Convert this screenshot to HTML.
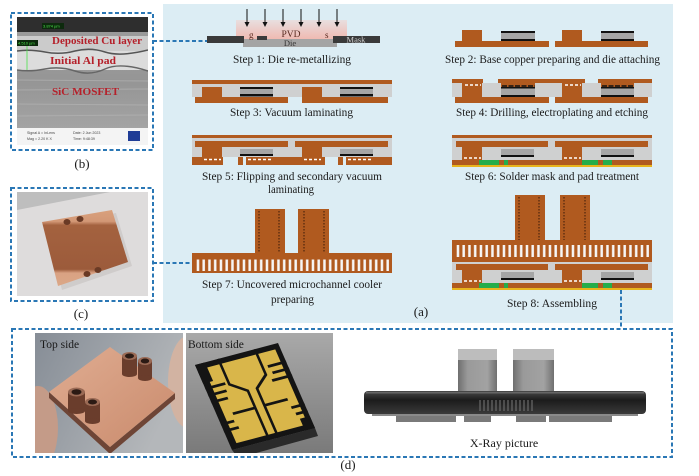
<!DOCTYPE html>
<html><head><meta charset="utf-8"><style>
html,body{margin:0;padding:0;background:#fff;width:699px;height:476px;overflow:hidden}
svg{display:block}
</style></head><body>
<svg width="699" height="476" viewBox="0 0 699 476" xmlns="http://www.w3.org/2000/svg" font-family="'Liberation Serif', serif">
<defs>
<pattern id="sl7" patternUnits="userSpaceOnUse" x="195" y="0" width="5.75" height="10"><rect x="1.7" y="0" width="2.5" height="10" fill="#f6f6f6"/></pattern>
<pattern id="sl8" patternUnits="userSpaceOnUse" x="455" y="0" width="5.75" height="10"><rect x="1.7" y="0" width="2.5" height="10" fill="#f6f6f6"/></pattern>
<linearGradient id="pink" x1="0" y1="0" x2="0" y2="1"><stop offset="0" stop-color="#e8dfdf"/><stop offset="1" stop-color="#f1b2a8"/></linearGradient>
<linearGradient id="sic" x1="0" y1="0" x2="0" y2="1"><stop offset="0" stop-color="#a4a4a4"/><stop offset="0.5" stop-color="#959595"/><stop offset="1" stop-color="#a9a9a9"/></linearGradient>
<linearGradient id="cu" x1="0" y1="0" x2="1" y2="1"><stop offset="0" stop-color="#e0ad92"/><stop offset="1" stop-color="#c98a6c"/></linearGradient>
<linearGradient id="topbg" x1="0" y1="0" x2="1" y2="0.4"><stop offset="0" stop-color="#868d96"/><stop offset="1" stop-color="#b4b7ba"/></linearGradient>
<linearGradient id="botbg" x1="0" y1="0" x2="0" y2="1"><stop offset="0" stop-color="#a9a9a9"/><stop offset="1" stop-color="#7a7a7a"/></linearGradient>
<linearGradient id="cyl" x1="0" y1="0" x2="1" y2="0"><stop offset="0" stop-color="#6f6f6f"/><stop offset="0.25" stop-color="#9a9a9a"/><stop offset="0.75" stop-color="#a2a2a2"/><stop offset="1" stop-color="#707070"/></linearGradient>
<linearGradient id="disk" x1="0" y1="0" x2="0" y2="1"><stop offset="0" stop-color="#4a4a4a"/><stop offset="0.4" stop-color="#1c1c1c"/><stop offset="1" stop-color="#3a3a3a"/></linearGradient>
<linearGradient id="cplate" x1="0" y1="0" x2="0" y2="1"><stop offset="0" stop-color="#d9a17d"/><stop offset="0.15" stop-color="#d39876"/><stop offset="0.2" stop-color="#a4623f"/><stop offset="0.78" stop-color="#9c5b3b"/><stop offset="0.83" stop-color="#d9a283"/><stop offset="1" stop-color="#dba787"/></linearGradient>
<clipPath id="cpTop"><rect x="35" y="333" width="148" height="120"/></clipPath>
<clipPath id="cpBot"><rect x="186" y="333" width="147" height="120"/></clipPath>
<clipPath id="cpB"><rect x="17" y="17" width="131" height="128"/></clipPath>
<clipPath id="cpC"><rect x="17" y="192" width="131" height="104"/></clipPath>
</defs>

<rect width="699" height="476" fill="#fff"/>
<!-- panel (a) -->
<rect x="163" y="4" width="510" height="319" fill="#dcedf4"/>

<!-- ===== Step 1 ===== -->
<rect x="236" y="20" width="111" height="23" fill="url(#pink)"/>
<g stroke="#111" stroke-width="1">
<line x1="247" y1="9" x2="247" y2="23"/><line x1="265" y1="9" x2="265" y2="23"/><line x1="283" y1="9" x2="283" y2="23"/>
<line x1="301" y1="9" x2="301" y2="23"/><line x1="319" y1="9" x2="319" y2="23"/><line x1="337" y1="9" x2="337" y2="23"/>
</g>
<g fill="#111">
<polygon points="244.5,22 249.5,22 247,27"/><polygon points="262.5,22 267.5,22 265,27"/><polygon points="280.5,22 285.5,22 283,27"/>
<polygon points="298.5,22 303.5,22 301,27"/><polygon points="316.5,22 321.5,22 319,27"/><polygon points="334.5,22 339.5,22 337,27"/>
</g>
<rect x="243" y="39" width="94" height="8" fill="#a4a4a4"/>
<rect x="207" y="36" width="37" height="7" fill="#3a3a3a"/>
<rect x="257" y="36" width="10" height="4" fill="#3a3a3a"/>
<rect x="333" y="36" width="47" height="7" fill="#3a3a3a"/>
<text x="249" y="38" font-size="9" fill="#5a2a20">g</text>
<text x="291" y="37" font-size="9.5" fill="#5a2a20" text-anchor="middle">PVD</text>
<text x="325" y="38" font-size="9" fill="#5a2a20">s</text>
<text x="290" y="46" font-size="8.5" fill="#333" text-anchor="middle">Die</text>
<text x="356" y="42.5" font-size="8.5" fill="#d0d0d0" text-anchor="middle">Mask</text>
<text x="292" y="63" font-size="12" fill="#1a1a1a" text-anchor="middle" textLength="118" lengthAdjust="spacingAndGlyphs">Step 1: Die re-metallizing</text>

<!-- ===== Step 2 ===== -->
<g fill="#b05a1f">
<rect x="455" y="41" width="94" height="6"/><rect x="462" y="30" width="20" height="11"/>
<rect x="555" y="41" width="93" height="6"/><rect x="562" y="30" width="20" height="11"/>
</g>
<rect x="501" y="31" width="34" height="2" fill="#111"/><rect x="501" y="33" width="34" height="6" fill="#a6a6a6"/><rect x="501" y="39" width="34" height="2" fill="#111"/>
<rect x="601" y="31" width="33" height="2" fill="#111"/><rect x="601" y="33" width="33" height="6" fill="#a6a6a6"/><rect x="601" y="39" width="33" height="2" fill="#111"/>
<text x="552.5" y="63" font-size="12" fill="#1a1a1a" text-anchor="middle" textLength="215" lengthAdjust="spacingAndGlyphs">Step 2: Base copper preparing and die attaching</text>

<!-- ===== Step 3 ===== -->
<rect x="192" y="84" width="200" height="13" fill="#cfd0d0"/>
<g fill="#b05a1f">
<rect x="192" y="80" width="200" height="4"/>
<rect x="202" y="87" width="20" height="10"/><rect x="302" y="87" width="20" height="10"/>
<rect x="195" y="97" width="93" height="6"/><rect x="302" y="97" width="86" height="6"/>
</g>
<rect x="240" y="87" width="33" height="2" fill="#111"/><rect x="240" y="89" width="33" height="5" fill="#a6a6a6"/><rect x="240" y="94" width="33" height="2.5" fill="#111"/>
<rect x="340" y="87" width="33" height="2" fill="#111"/><rect x="340" y="89" width="33" height="5" fill="#a6a6a6"/><rect x="340" y="94" width="33" height="2.5" fill="#111"/>
<text x="291.5" y="116" font-size="12" fill="#1a1a1a" text-anchor="middle" textLength="123" lengthAdjust="spacingAndGlyphs">Step 3: Vacuum laminating</text>

<!-- ===== Step 4 ===== -->
<rect x="452" y="83" width="200" height="14" fill="#cfd0d0"/>
<g fill="#b05a1f">
<rect x="452" y="79" width="31" height="4"/><rect x="498" y="79" width="87" height="4"/><rect x="598" y="79" width="54" height="4"/>
<rect x="462" y="83" width="20" height="14"/><rect x="562" y="83" width="20" height="14"/>
<rect x="501" y="83" width="34" height="4"/><rect x="601" y="83" width="33" height="4"/>
<rect x="455" y="97" width="94" height="6"/><rect x="555" y="97" width="93" height="6"/>
</g>
<g stroke="#fff" stroke-width="1.5" stroke-dasharray="3 2">
<line x1="465" y1="85" x2="481" y2="85"/><line x1="565" y1="85" x2="581" y2="85"/>
</g>
<g stroke="#111" stroke-width="1.5" stroke-dasharray="5 1.5">
<line x1="502" y1="86" x2="535" y2="86"/><line x1="602" y1="86" x2="634" y2="86"/>
</g>
<rect x="501" y="87" width="34" height="1.5" fill="#111"/><rect x="501" y="88.5" width="34" height="6.5" fill="#a6a6a6"/><rect x="501" y="95" width="34" height="2" fill="#111"/>
<rect x="601" y="87" width="33" height="1.5" fill="#111"/><rect x="601" y="88.5" width="33" height="6.5" fill="#a6a6a6"/><rect x="601" y="95" width="33" height="2" fill="#111"/>
<text x="552" y="116" font-size="12" fill="#1a1a1a" text-anchor="middle" textLength="192" lengthAdjust="spacingAndGlyphs">Step 4: Drilling, electroplating and etching</text>

<!-- ===== Step 5 ===== -->
<rect x="192" y="138" width="200" height="19" fill="#cfd0d0"/>
<g fill="#b05a1f">
<rect x="192" y="135" width="200" height="3"/>
<rect x="195" y="141" width="93" height="6"/><rect x="295" y="141" width="93" height="6"/>
<rect x="202" y="147" width="20" height="10"/><rect x="302" y="147" width="20" height="10"/>
<rect x="192" y="157" width="31" height="8"/><rect x="238" y="157" width="5" height="8"/><rect x="246" y="157" width="79" height="8"/>
<rect x="338" y="157" width="5" height="8"/><rect x="346" y="157" width="46" height="8"/>
</g>
<rect x="240" y="149" width="33" height="5" fill="#a6a6a6"/><rect x="240" y="154" width="33" height="2" fill="#111"/>
<rect x="340" y="149" width="33" height="5" fill="#a6a6a6"/><rect x="340" y="154" width="33" height="2" fill="#111"/>
<g stroke="#fff" stroke-width="1.5" stroke-dasharray="3 2">
<line x1="204" y1="159.5" x2="221" y2="159.5"/><line x1="304" y1="159.5" x2="321" y2="159.5"/>
<line x1="248" y1="159.5" x2="272" y2="159.5"/><line x1="348" y1="159.5" x2="372" y2="159.5"/>
</g>
<text x="292" y="180" font-size="12" fill="#1a1a1a" text-anchor="middle" textLength="180" lengthAdjust="spacingAndGlyphs">Step 5: Flipping and secondary vacuum</text>
<text x="291" y="193" font-size="12" fill="#1a1a1a" text-anchor="middle" textLength="46" lengthAdjust="spacingAndGlyphs">laminating</text>

<!-- ===== Step 6 ===== -->
<rect x="452" y="138" width="200" height="23" fill="#cfd0d0"/>
<g fill="#b05a1f">
<rect x="452" y="135" width="200" height="3"/>
<rect x="456" y="141" width="92" height="6"/><rect x="555" y="141" width="93" height="6"/>
<rect x="462" y="147" width="20" height="13"/><rect x="562" y="147" width="20" height="13"/>
<rect x="452" y="160" width="200" height="5"/>
</g>
<rect x="501" y="149" width="33" height="6" fill="#a6a6a6"/><rect x="501" y="155" width="33" height="2" fill="#111"/>
<rect x="601" y="149" width="33" height="6" fill="#a6a6a6"/><rect x="601" y="155" width="33" height="2" fill="#111"/>
<g stroke="#fff" stroke-width="1.5" stroke-dasharray="3 2">
<line x1="464" y1="158" x2="481" y2="158"/><line x1="564" y1="158" x2="581" y2="158"/>
</g>
<g fill="#25ad4b">
<rect x="479" y="160" width="20" height="6"/><rect x="504" y="160" width="4" height="6"/>
<rect x="582" y="160" width="16" height="6"/><rect x="603" y="160" width="9" height="6"/>
</g>
<rect x="452" y="165" width="200" height="2" fill="#e8b41c"/>
<text x="552" y="180" font-size="12" fill="#1a1a1a" text-anchor="middle" textLength="174" lengthAdjust="spacingAndGlyphs">Step 6: Solder mask and pad treatment</text>

<!-- ===== Step 7 ===== -->
<g fill="#b05a1f">
<rect x="255" y="209" width="30" height="45"/><rect x="298" y="209" width="31" height="45"/>
<rect x="192" y="253" width="200" height="20"/>
</g>
<rect x="196" y="259.5" width="193" height="11.5" fill="url(#sl7)"/>
<g stroke="#3a1a08" stroke-width="1" stroke-dasharray="1.5 1.5">
<line x1="259" y1="211" x2="259" y2="253"/><line x1="279" y1="211" x2="279" y2="253"/>
<line x1="304" y1="211" x2="304" y2="253"/><line x1="324" y1="211" x2="324" y2="253"/>
</g>
<text x="292" y="288" font-size="12" fill="#1a1a1a" text-anchor="middle" textLength="180" lengthAdjust="spacingAndGlyphs">Step 7: Uncovered microchannel cooler</text>
<text x="292.5" y="303" font-size="12" fill="#1a1a1a" text-anchor="middle" textLength="43" lengthAdjust="spacingAndGlyphs">preparing</text>
<text x="421" y="316" font-size="13" fill="#1a1a1a" text-anchor="middle">(a)</text>

<!-- ===== Step 8 ===== -->
<g fill="#b05a1f">
<rect x="515" y="195" width="30" height="46"/><rect x="560" y="195" width="30" height="46"/>
<rect x="452" y="240" width="200" height="22"/>
</g>
<rect x="456" y="245" width="193" height="12" fill="url(#sl8)"/>
<g stroke="#3a1a08" stroke-width="1" stroke-dasharray="1.5 1.5">
<line x1="519" y1="197" x2="519" y2="240"/><line x1="539" y1="197" x2="539" y2="240"/>
<line x1="564" y1="197" x2="564" y2="240"/><line x1="585" y1="197" x2="585" y2="240"/>
</g>
<rect x="452" y="262" width="200" height="22" fill="#cfd0d0"/>
<g fill="#b05a1f">
<rect x="456" y="264" width="92" height="6"/><rect x="555" y="264" width="93" height="6"/>
<rect x="462" y="270" width="20" height="13"/><rect x="562" y="270" width="20" height="13"/>
<rect x="452" y="283" width="200" height="5"/>
</g>
<rect x="501" y="272" width="33" height="6" fill="#a6a6a6"/><rect x="501" y="278" width="33" height="2" fill="#111"/>
<rect x="601" y="272" width="33" height="6" fill="#a6a6a6"/><rect x="601" y="278" width="33" height="2" fill="#111"/>
<g stroke="#fff" stroke-width="1.5" stroke-dasharray="3 2">
<line x1="464" y1="281" x2="481" y2="281"/><line x1="564" y1="281" x2="581" y2="281"/>
</g>
<g fill="#25ad4b">
<rect x="479" y="283" width="20" height="6"/><rect x="504" y="283" width="4" height="6"/>
<rect x="582" y="283" width="16" height="6"/><rect x="603" y="283" width="9" height="6"/>
</g>
<rect x="452" y="288" width="200" height="2" fill="#e8b41c"/>
<text x="552" y="307" font-size="12" fill="#1a1a1a" text-anchor="middle" textLength="90" lengthAdjust="spacingAndGlyphs">Step 8: Assembling</text>

<!-- ===== (b) SEM ===== -->
<g clip-path="url(#cpB)">
<rect x="17" y="17" width="131" height="128" fill="url(#sic)"/>
<rect x="17" y="17" width="131" height="15" fill="#2e2e2e"/>
<rect x="17" y="32" width="131" height="19" fill="#cbcbcb"/>
<rect x="17" y="32" width="131" height="4" fill="#9a9a9a"/>
<rect x="17" y="51" width="131" height="19" fill="#dcdcdc"/>
<path d="M17 51 Q30 49 45 52 T75 51 T105 52 T148 50" stroke="#555" stroke-width="1.5" fill="none"/>
<path d="M17 70 Q30 72 45 69 T75 71 T105 69 T148 71" stroke="#666" stroke-width="1.5" fill="none"/>
<g stroke="#b3b3b3" stroke-width="1" opacity="0.7">
<line x1="17" y1="80" x2="148" y2="81"/><line x1="17" y1="90" x2="148" y2="89"/><line x1="17" y1="104" x2="148" y2="105"/><line x1="17" y1="116" x2="148" y2="115"/>
</g>
<rect x="17" y="128" width="131" height="17" fill="#f4f4f4"/>
<text x="27" y="134" font-size="3.6" font-family="'Liberation Sans',sans-serif" fill="#444">Signal A = InLens</text>
<text x="27" y="140" font-size="3.6" font-family="'Liberation Sans',sans-serif" fill="#444">Mag =  2.20 K X</text>
<text x="73" y="134" font-size="3.6" font-family="'Liberation Sans',sans-serif" fill="#444">Date: 2 Jun 2023</text>
<text x="73" y="140" font-size="3.6" font-family="'Liberation Sans',sans-serif" fill="#444">Time: 9:48:39</text>
<rect x="128" y="131" width="12" height="10" fill="#1f3c96"/>
<rect x="42" y="23" width="22" height="6" fill="#0d2a0d"/>
<text x="43" y="27.7" font-size="4" font-family="'Liberation Sans',sans-serif" fill="#4be04b">3.874 µm</text>
<rect x="17" y="40" width="21" height="6" fill="#0d2a0d"/>
<text x="18" y="44.7" font-size="4" font-family="'Liberation Sans',sans-serif" fill="#4be04b">4.510 µm</text>
<line x1="27" y1="46" x2="27" y2="70" stroke="#4be04b" stroke-width="0.8"/>
<text x="52" y="44" font-size="11" font-weight="bold" fill="#b5202a" textLength="90" lengthAdjust="spacingAndGlyphs">Deposited Cu layer</text>
<text x="50" y="64" font-size="11" font-weight="bold" fill="#b5202a" textLength="66" lengthAdjust="spacingAndGlyphs">Initial Al pad</text>
<text x="52" y="95" font-size="11" font-weight="bold" fill="#b5202a" textLength="67" lengthAdjust="spacingAndGlyphs">SiC MOSFET</text>
</g>
<rect x="11" y="13" width="142" height="137" fill="none" stroke="#2a77b5" stroke-width="2" stroke-dasharray="4 2.5"/>
<text x="82" y="168" font-size="13" fill="#1a1a1a" text-anchor="middle">(b)</text>
<line x1="153" y1="41" x2="207" y2="41" stroke="#2a77b5" stroke-width="2" stroke-dasharray="4 2.5"/>

<!-- ===== (c) photo ===== -->
<g clip-path="url(#cpC)">
<rect x="17" y="192" width="131" height="104" fill="#dedcdc"/>
<polygon points="17,192 110,192 17,210" fill="#b0b0b0" opacity="0.7"/>
<polygon points="46,226 116,213 132,266 62,290" fill="#c9c5c3" opacity="0.7"/>
<polygon points="42,222 112,210 128,262 58,286" fill="url(#cplate)"/>
<g fill="#6a3a25">
<ellipse cx="67" cy="222" rx="3.5" ry="3"/><ellipse cx="80" cy="219" rx="3.5" ry="3"/>
<ellipse cx="87" cy="274" rx="3.5" ry="3"/><ellipse cx="98" cy="270" rx="3.5" ry="3"/>
</g>
</g>
<rect x="11" y="188" width="142" height="113" fill="none" stroke="#2a77b5" stroke-width="2" stroke-dasharray="4 2.5"/>
<text x="81" y="318" font-size="13" fill="#1a1a1a" text-anchor="middle">(c)</text>
<line x1="153" y1="263" x2="192" y2="263" stroke="#2a77b5" stroke-width="2" stroke-dasharray="4 2.5"/>

<!-- ===== (d) ===== -->
<line x1="621" y1="290" x2="621" y2="329" stroke="#2a77b5" stroke-width="2" stroke-dasharray="4 2.5"/>

<!-- Top side photo -->
<g clip-path="url(#cpTop)">
<rect x="35" y="333" width="148" height="120" fill="url(#topbg)"/>
<ellipse cx="38" cy="428" rx="20" ry="42" fill="#c49b88"/>
<ellipse cx="188" cy="382" rx="20" ry="46" fill="#d2b3a2"/>
<polygon points="49,392 110,447 175,393 175,399 110,454 49,398" fill="#6e4536"/>
<polygon points="49,392 110,347 175,393 110,447" fill="url(#cu)"/>
<g>
<rect x="122" y="356" width="15" height="18" fill="#6a3d2c"/><ellipse cx="129.5" cy="374" rx="7.5" ry="3" fill="#6a3d2c"/><ellipse cx="129.5" cy="356" rx="7.5" ry="4" fill="#9a6a55"/><ellipse cx="129.5" cy="356" rx="4.5" ry="2.5" fill="#2b1a14"/>
<rect x="138" y="361" width="14" height="17" fill="#6a3d2c"/><ellipse cx="145" cy="378" rx="7" ry="3" fill="#6a3d2c"/><ellipse cx="145" cy="361" rx="7" ry="4" fill="#9a6a55"/><ellipse cx="145" cy="361" rx="4.2" ry="2.5" fill="#2b1a14"/>
<rect x="68" y="392" width="17" height="19" fill="#6a3d2c"/><ellipse cx="76.5" cy="411" rx="8.5" ry="3" fill="#6a3d2c"/><ellipse cx="76.5" cy="392" rx="8.5" ry="4.5" fill="#9a6a55"/><ellipse cx="76.5" cy="392" rx="5" ry="2.8" fill="#2b1a14"/>
<rect x="85" y="402" width="15" height="19" fill="#6a3d2c"/><ellipse cx="92.5" cy="421" rx="7.5" ry="3" fill="#6a3d2c"/><ellipse cx="92.5" cy="402" rx="7.5" ry="4" fill="#9a6a55"/><ellipse cx="92.5" cy="402" rx="4.5" ry="2.5" fill="#2b1a14"/>
</g>
</g>
<text x="40" y="348" font-size="11.5" fill="#1a1a1a">Top side</text>

<!-- Bottom side photo -->
<g clip-path="url(#cpBot)">
<rect x="186" y="333" width="147" height="120" fill="url(#botbg)"/>
<polygon points="232,450 315,428 318,436 238,458" fill="#2a2a2a"/>
<g transform="matrix(0.83,-0.22,0.37,0.85,195,365)">
<rect x="0" y="0" width="100" height="100" fill="#141414"/>
<rect x="8" y="6" width="86" height="88" fill="#d9b64a"/>
<g stroke="#141414" stroke-width="3" fill="none">
<path d="M28 0 V30 L45 42 V62 M72 0 V30 L56 42 V62 M18 62 H45 V100 M56 62 V100 M56 62 H84"/>
<path d="M0 28 H24 M0 36 H22 M0 44 H20 M78 22 H100 M80 30 H100 M76 38 H100"/>
<path d="M0 70 H16 M0 78 H18 M84 72 H100 M86 80 H100"/>
</g>
<rect x="0" y="0" width="12" height="22" fill="#141414"/><rect x="88" y="86" width="12" height="14" fill="#141414"/>
</g>
</g>
<text x="188" y="348" font-size="11.5" fill="#1a1a1a">Bottom side</text>

<!-- X-ray -->
<rect x="458" y="349" width="39" height="44" fill="url(#cyl)"/>
<rect x="458" y="349" width="39" height="11" fill="#bdbdbd"/>
<rect x="513" y="349" width="41" height="44" fill="url(#cyl)"/>
<rect x="513" y="349" width="41" height="11" fill="#bcbcbc"/>
<rect x="364" y="391" width="282" height="23" rx="4" fill="url(#disk)"/>
<rect x="366" y="392" width="278" height="1.5" fill="#666"/>
<g stroke="#6a6a6a" stroke-width="1.2">
<line x1="480" y1="400" x2="480" y2="411"/><line x1="484" y1="400" x2="484" y2="411"/><line x1="488" y1="400" x2="488" y2="411"/><line x1="492" y1="400" x2="492" y2="411"/><line x1="496" y1="400" x2="496" y2="411"/><line x1="500" y1="400" x2="500" y2="411"/><line x1="504" y1="400" x2="504" y2="411"/><line x1="508" y1="400" x2="508" y2="411"/><line x1="512" y1="400" x2="512" y2="411"/><line x1="516" y1="400" x2="516" y2="411"/><line x1="520" y1="400" x2="520" y2="411"/><line x1="524" y1="400" x2="524" y2="411"/><line x1="528" y1="400" x2="528" y2="411"/><line x1="532" y1="400" x2="532" y2="411"/>
</g>
<rect x="372" y="414" width="266" height="2" fill="#8a8a8a"/>
<g fill="#7a7a7a">
<rect x="396" y="416" width="60" height="6"/><rect x="464" y="416" width="27" height="6"/><rect x="516" y="416" width="30" height="6"/><rect x="549" y="416" width="63" height="6"/>
</g>
<text x="504" y="447" font-size="12" fill="#1a1a1a" text-anchor="middle">X-Ray picture</text>

<rect x="12" y="329" width="660" height="128" fill="none" stroke="#2a77b5" stroke-width="2" stroke-dasharray="4 2.5"/>
<text x="348" y="469" font-size="13" fill="#1a1a1a" text-anchor="middle">(d)</text>
</svg>
</body></html>
